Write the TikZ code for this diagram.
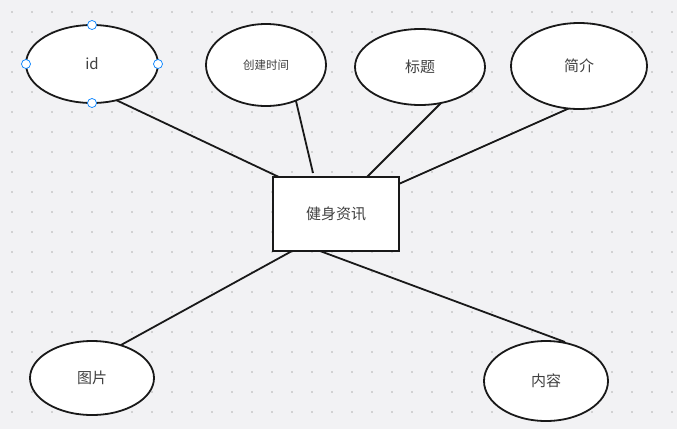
\documentclass[tikz,border=0pt]{standalone}
\usepackage{fontspec}
\setmainfont{Noto Sans CJK SC}
\begin{document}
\begin{tikzpicture}[x=1pt,y=-1pt,
  ell/.style={draw=black!90,line width=1.8pt,fill=white},
  lbl/.style={text=black!75,font=\fontsize{15}{17}\selectfont},
  con/.style={draw=black!90,line width=1.8pt},
  hdl/.style={draw=blue!50!cyan,fill=white,line width=0.7pt,circle,inner sep=0pt,minimum size=9pt}]
\fill[fill={rgb,255:red,242;green,242;blue,244}] (0,0) rectangle (677,429);
\useasboundingbox (0,0) rectangle (677,429);
\foreach \i in {0,...,33}{\foreach \j in {0,...,21}{\fill[black!30] (12+20*\i,12+20*\j) circle (0.9pt);}}
\coordinate (a1) at (116,100); \coordinate (a2) at (281,178);
\coordinate (b1) at (296,101); \coordinate (b2) at (313,173);
\coordinate (c1) at (441,103); \coordinate (c2) at (367,177);
\coordinate (d1) at (572,107); \coordinate (d2) at (392,187);
\coordinate (e1) at (121,345); \coordinate (e2) at (292,251);
\coordinate (f1) at (565,342); \coordinate (f2) at (320,251);
\draw[con] (a1)--(a2); \draw[con] (b1)--(b2); \draw[con] (c1)--(c2);
\draw[con] (d1)--(d2); \draw[con] (e1)--(e2); \draw[con] (f1)--(f2);
\node[draw=black!90,line width=1.8pt,fill=white,minimum width=126pt,minimum height=74pt,lbl] (main) at (336,214) {健身资讯};
\draw[ell] (92,64) ellipse [x radius=66,y radius=39]; \node[lbl] (id) at (92,64) {id};
\draw[ell] (266,65) ellipse [x radius=60,y radius=41]; \node[lbl,font=\fontsize{11.5}{13}\selectfont] (ct) at (266,65) {创建时间};
\draw[ell] (420,67) ellipse [x radius=65,y radius=38]; \node[lbl] (bt) at (420,67) {标题};
\draw[ell] (579,66) ellipse [x radius=68,y radius=43]; \node[lbl] (jj) at (579,66) {简介};
\draw[ell] (92,378) ellipse [x radius=62,y radius=37]; \node[lbl] (tp) at (92,378) {图片};
\draw[ell] (546,381) ellipse [x radius=62,y radius=40]; \node[lbl] (nr) at (546,381) {内容};
\node[hdl] (h1) at (92,25) {}; \node[hdl] (h2) at (92,103) {};
\node[hdl] (h3) at (26,64) {}; \node[hdl] (h4) at (158,64) {};
\end{tikzpicture}
\end{document}
